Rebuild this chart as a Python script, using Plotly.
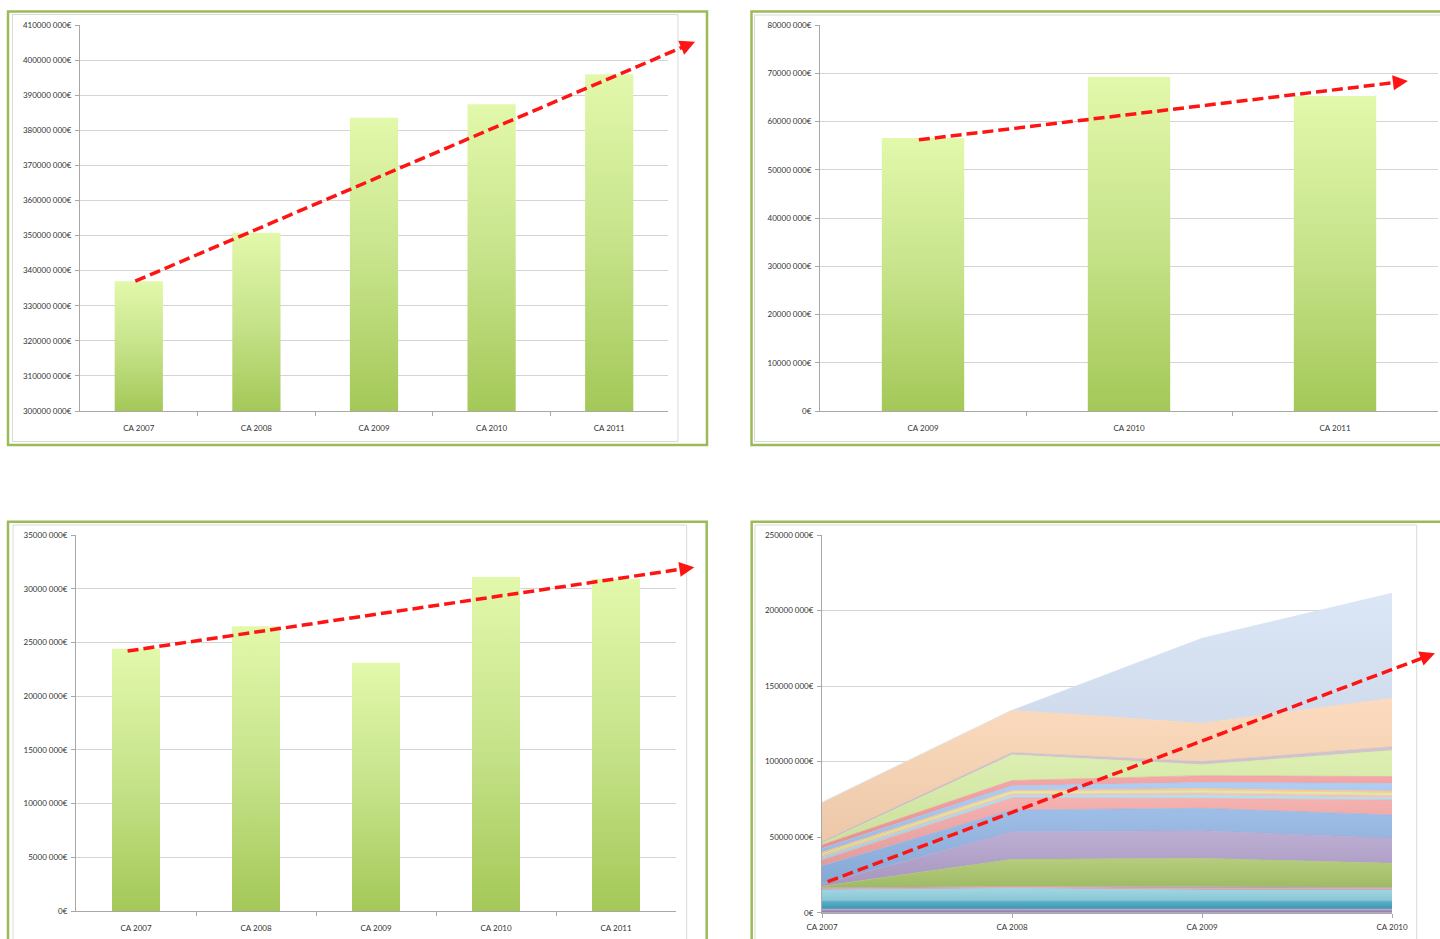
import plotly.graph_objects as go

# ---------------- data ----------------
# Panel 1: total turnover 2007-2011
cats_1 = ["CA 2007", "CA 2008", "CA 2009", "CA 2010", "CA 2011"]
ca_total = [337.0e6, 350.8e6, 383.6e6, 387.4e6, 396.0e6]
ticks_1 = [300e6, 310e6, 320e6, 330e6, 340e6, 350e6, 360e6, 370e6, 380e6, 390e6, 400e6, 410e6]
ticktext_1 = ["300000 000€", "310000 000€", "320000 000€", "330000 000€", "340000 000€",
              "350000 000€", "360000 000€", "370000 000€", "380000 000€", "390000 000€",
              "400000 000€", "410000 000€"]

# Panel 2: turnover 2009-2011
cats_2 = ["CA 2009", "CA 2010", "CA 2011"]
ca_2 = [56.6e6, 69.2e6, 65.3e6]
ticks_2 = [0, 10e6, 20e6, 30e6, 40e6, 50e6, 60e6, 70e6, 80e6]
ticktext_2 = ["0€", "10000 000€", "20000 000€", "30000 000€", "40000 000€",
              "50000 000€", "60000 000€", "70000 000€", "80000 000€"]

# Panel 3: turnover 2007-2011
cats_3 = ["CA 2007", "CA 2008", "CA 2009", "CA 2010", "CA 2011"]
ca_3 = [24.4e6, 26.5e6, 23.1e6, 31.1e6, 30.9e6]
ticks_3 = [0, 5e6, 10e6, 15e6, 20e6, 25e6, 30e6, 35e6]
ticktext_3 = ["0€", "5000 000€", "10000 000€", "15000 000€", "20000 000€",
              "25000 000€", "30000 000€", "35000 000€"]

# Panel 4: stacked turnover by segment 2007-2010 (M€, bottom to top)
cats_4 = ["CA 2007", "CA 2008", "CA 2009", "CA 2010"]
seg_01 = [1.0, 1.0, 1.0, 1.0]
seg_02 = [1.5, 1.5, 1.5, 1.5]
seg_03 = [5.0, 5.0, 5.0, 5.0]
seg_04 = [7.6, 8.6, 7.6, 7.5]
seg_05 = [0.8, 0.8, 1.0, 1.0]
seg_06 = [0.7, 0.5, 1.1, 0.8]
seg_07 = [0.9, 17.9, 18.8, 15.9]
seg_08 = [1.5, 18.3, 18.3, 16.5]
seg_09 = [12.0, 14.4, 14.8, 15.5]
seg_10 = [4.0, 8.0, 6.6, 9.9]
seg_11 = [1.5, 1.5, 2.0, 1.5]
seg_12 = [1.0, 1.0, 1.5, 1.5]
seg_13 = [1.5, 1.5, 1.5, 1.5]
seg_14 = [1.0, 1.0, 1.5, 1.5]
seg_15 = [2.5, 3.0, 4.0, 5.0]
seg_16 = [2.5, 3.5, 4.5, 4.5]
seg_17 = [1.0, 17.0, 7.3, 17.2]
seg_18 = [1.0, 1.5, 2.0, 2.5]
seg_19 = [26.0, 28.0, 25.4, 32.2]
seg_20 = [0.0, 0.0, 56.3, 69.5]
ticks_4 = [0, 50e6, 100e6, 150e6, 200e6, 250e6]
ticktext_4 = ["0€", "50000 000€", "100000 000€", "150000 000€", "200000 000€", "250000 000€"]

# trend arrows: (x start, y start, x end, y end) in each panel's data units
trend_1 = (-0.03, 337.0e6, 4.73, 405.2e6)
trend_2 = (-0.02, 56.2e6, 2.354, 68.4e6)
trend_3 = (-0.07, 24.2e6, 4.653, 32.0e6)
trend_4 = (0.03, 20.5e6, 3.226, 171.7e6)

# ---------------- styling ----------------
W, H = 1440, 939
FONT = dict(family="Lato, 'Open Sans', sans-serif", size=8, color="#333333")
GRID = "#d4d4d4"
AXIS = "#a8a8a8"
BORDER_GREEN = "#9bbb59"
BAR_SCALE = [[0.0, "#a4c858"], [0.5, "#c6e38a"], [1.0, "#e2f8ab"]]
TREND_RED = "#ff1414"

segments = [seg_01, seg_02, seg_03, seg_04, seg_05, seg_06, seg_07, seg_08, seg_09, seg_10,
            seg_11, seg_12, seg_13, seg_14, seg_15, seg_16, seg_17, seg_18, seg_19, seg_20]
seg_colors = ["#8064a2", "#b3a2c7", "#3fa3bd", "#92d0e0", "#e2a7a6", "#b9a3b3",
              "#a9c66a", "#b2a1cc", "#8fb3e3", "#f2a5a4", "#a5dcea", "#f5b7b6",
              "#d6ea98", "#fbc08e", "#a3c5f0", "#f09a99", "#d8eea6", "#cbbcc4",
              "#fbd5b4", "#d5e2f5"]

panels = {
    1: dict(xd=[80 / W, 668 / W], yd=[1 - 411 / H, 1 - 25 / H], xr=[-0.5, 4.5], yr=[300e6, 410e6]),
    2: dict(xd=[820 / W, 1438 / W], yd=[1 - 411 / H, 1 - 25 / H], xr=[-0.5, 2.5], yr=[0, 80e6]),
    3: dict(xd=[76 / W, 676 / W], yd=[1 - 911 / H, 1 - 535 / H], xr=[-0.5, 4.5], yr=[0, 35e6]),
    4: dict(xd=[822 / W, 1392 / W], yd=[1 - 912.7 / H, 1 - 535 / H], xr=[0, 3], yr=[0, 250e6]),
}


def shade(hex_color, f):
    """Lighten (f>0) or darken (f<0) a hex colour."""
    r, g, b = (int(hex_color[i:i + 2], 16) for i in (1, 3, 5))
    if f >= 0:
        r, g, b = (c + (255 - c) * f for c in (r, g, b))
    else:
        r, g, b = (c * (1 + f) for c in (r, g, b))
    return "#%02x%02x%02x" % (round(r), round(g), round(b))


fig = go.Figure()


def add_bars(values, xa, ya, base, half=0.205):
    for i, v in enumerate(values):
        fig.add_trace(go.Scatter(
            x=[i - half, i - half, i + half, i + half, i - half],
            y=[base, v, v, base, base],
            mode="lines", line=dict(width=0), fill="toself",
            fillgradient=dict(type="vertical", colorscale=BAR_SCALE),
            xaxis=xa, yaxis=ya, hoverinfo="skip", showlegend=False))


add_bars(ca_total, "x", "y", panels[1]["yr"][0])
add_bars(ca_2, "x2", "y2", panels[2]["yr"][0], half=0.2)
add_bars(ca_3, "x3", "y3", panels[3]["yr"][0], half=0.2)

# stacked areas, each band shaded slightly darker at its base than at its top
bottom = [0.0] * len(cats_4)
for seg, col in zip(segments, seg_colors):
    top = [b + v * 1e6 for b, v in zip(bottom, seg)]
    fig.add_trace(go.Scatter(
        x=list(range(len(cats_4))), y=[v * 1e6 for v in seg],
        stackgroup="seg", mode="lines", line=dict(width=0.6, color=col),
        fillgradient=dict(type="vertical", start=min(bottom), stop=max(top),
                          colorscale=[[0, shade(col, -0.06)], [1, shade(col, 0.14)]]),
        xaxis="x4", yaxis="y4", hoverinfo="skip", showlegend=False))
    bottom = top


def xaxis_cfg(p, cats, boundaries=True):
    n = len(cats)
    cfg = dict(domain=p["xd"], range=p["xr"], tickvals=list(range(n)), ticktext=cats,
               showgrid=False, zeroline=False, showline=True, linecolor=AXIS, linewidth=1,
               tickfont=FONT, fixedrange=True, automargin=False)
    if boundaries:
        cfg.update(ticks="", ticklabelstandoff=9,
                   minor=dict(tickvals=[i + 0.5 for i in range(n - 1)], ticks="outside",
                              ticklen=4, tickcolor=AXIS, showgrid=False))
    else:
        cfg.update(ticks="outside", ticklen=4, tickcolor=AXIS, ticklabelstandoff=3)
    return cfg


def yaxis_cfg(p, tv, tt):
    return dict(domain=p["yd"], range=p["yr"], tickvals=tv, ticktext=tt, showgrid=True,
                gridcolor=GRID, gridwidth=1.3, zeroline=False, showline=True, linecolor=AXIS,
                linewidth=1, ticks="outside", ticklen=4, tickcolor=AXIS, tickfont=FONT,
                ticklabelstandoff=2, fixedrange=True, automargin=False)


layout_axes = dict(
    xaxis=dict(xaxis_cfg(panels[1], cats_1), anchor="y"),
    yaxis=dict(yaxis_cfg(panels[1], ticks_1, ticktext_1), anchor="x"),
    xaxis2=dict(xaxis_cfg(panels[2], cats_2), anchor="y2"),
    yaxis2=dict(yaxis_cfg(panels[2], ticks_2, ticktext_2), anchor="x2"),
    xaxis3=dict(xaxis_cfg(panels[3], cats_3), anchor="y3"),
    yaxis3=dict(yaxis_cfg(panels[3], ticks_3, ticktext_3), anchor="x3"),
    xaxis4=dict(xaxis_cfg(panels[4], cats_4, boundaries=False), anchor="y4"),
    yaxis4=dict(yaxis_cfg(panels[4], ticks_4, ticktext_4), anchor="x4"),
)

shapes = []
annotations = []

# frames around each chart: outer green border and inner grey chart-area border
frames = [
    ((8, 11.5, 707, 445), (12.5, 14.5, 678, 441.5)),
    ((751.5, 11.5, 1446, 445), (754.5, 15, 1450, 441.5)),
    ((8, 521.7, 706.7, 950), (13, 525, 686.7, 950)),
    ((751.7, 521.7, 1446, 950), (755, 525, 1416.7, 950)),
]
for outer, inner in frames:
    x0, y0, x1, y1 = inner
    shapes.append(dict(type="rect", xref="paper", yref="paper", x0=x0 / W, x1=x1 / W,
                       y0=1 - y1 / H, y1=1 - y0 / H, line=dict(color="#d9d9d9", width=1),
                       layer="below"))
    x0, y0, x1, y1 = outer
    shapes.append(dict(type="rect", xref="paper", yref="paper", x0=x0 / W, x1=x1 / W,
                       y0=1 - y1 / H, y1=1 - y0 / H, line=dict(color=BORDER_GREEN, width=2.5),
                       layer="above"))


def to_paper(p, xv, yv):
    (dx0, dx1), (rx0, rx1) = p["xd"], p["xr"]
    (dy0, dy1), (ry0, ry1) = p["yd"], p["yr"]
    return (dx0 + (xv - rx0) / (rx1 - rx0) * (dx1 - dx0),
            dy0 + (yv - ry0) / (ry1 - ry0) * (dy1 - dy0))


for key, tr in zip([1, 2, 3, 4], [trend_1, trend_2, trend_3, trend_4]):
    p = panels[key]
    px0, py0 = to_paper(p, tr[0], tr[1])
    px1, py1 = to_paper(p, tr[2], tr[3])
    # direction in screen pixels
    dx, dy = (px1 - px0) * W, -(py1 - py0) * H
    length = (dx ** 2 + dy ** 2) ** 0.5
    ux, uy = dx / length, dy / length
    head = 9
    ex, ey = px1 - ux * head / W, py1 + uy * head / H
    shapes.append(dict(type="line", xref="paper", yref="paper", x0=px0, y0=py0, x1=ex, y1=ey,
                       line=dict(color=TREND_RED, width=3.5, dash="11px,5px"), layer="above"))
    annotations.append(dict(xref="paper", yref="paper", x=px1, y=py1, text="", showarrow=True,
                            ax=-ux * (head + 2), ay=-uy * (head + 2), arrowhead=2, arrowsize=1,
                            arrowwidth=3, arrowcolor=TREND_RED, standoff=0, startstandoff=0))

fig.update_layout(
    width=W, height=H, margin=dict(l=0, r=0, t=0, b=0, autoexpand=False),
    paper_bgcolor="white", plot_bgcolor="rgba(0,0,0,0)",
    showlegend=False, shapes=shapes, annotations=annotations, font=FONT,
    **layout_axes,
)

fig.write_html("out.html", config={"displayModeBar": False})
